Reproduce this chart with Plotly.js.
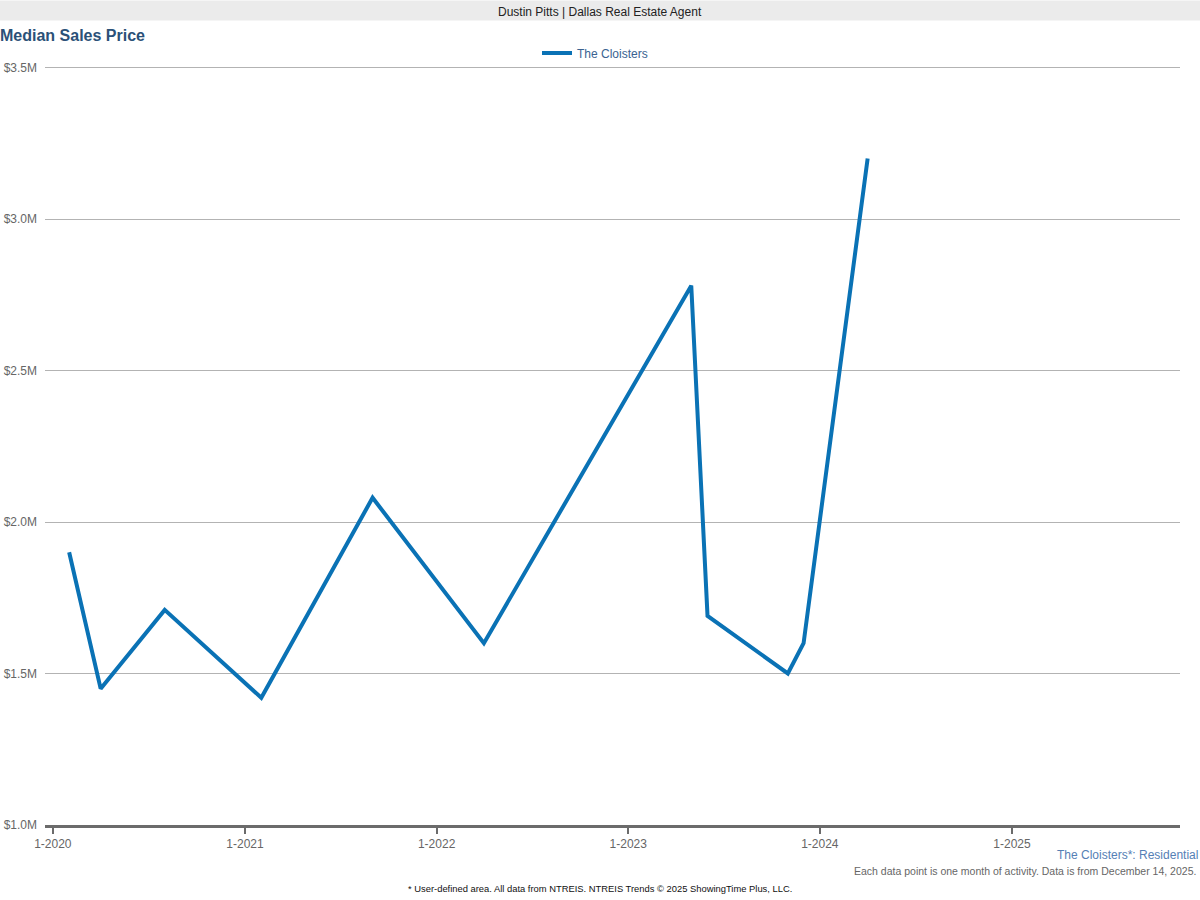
<!DOCTYPE html>
<html>
<head>
<meta charset="utf-8">
<script src="https://cdn.plot.ly/plotly-3.0.1.min.js"></script>
<style>
html,body{margin:0;padding:0;background:#fff;}
#chart{width:1200px;height:900px;}
</style>
</head>
<body>
<div id="chart"></div>
<script>
// Data
const months = ['2020-02-01','2020-04-01','2020-08-01','2021-02-01','2021-09-01','2022-04-01','2023-05-01','2023-06-01','2023-11-01','2023-12-01','2024-04-01'];
const medianPrice = [1900000,1450000,1710000,1420000,2080000,1600000,2780000,1690000,1500000,1600000,3200000];
const seriesName = 'The Cloisters';
const xTickVals = ['2020-01-01','2021-01-01','2022-01-01','2023-01-01','2024-01-01','2025-01-01'];
const xTickText = ['1-2020','1-2021','1-2022','1-2023','1-2024','1-2025'];
const yTickVals = [1000000,1500000,2000000,2500000,3000000,3500000];
const yTickText = ['$1.0M','$1.5M','$2.0M','$2.5M','$3.0M','$3.5M'];

const L = 45, R = 1180, T = 67, B = 825;
const px = x => (x - L) / (R - L);
const py = y => (B - y) / (B - T);
const font = 'Liberation Sans, Arial, sans-serif';

const trace = {
  x: months, y: medianPrice, type: 'scatter', mode: 'lines', name: seriesName,
  line: {color: '#0a72b5', width: 4}, showlegend: true, hoverinfo: 'x+y'
};

const layout = {
  width: 1200, height: 900,
  margin: {l: L, r: 1200 - R, t: T, b: 900 - B, pad: 0},
  paper_bgcolor: '#ffffff', plot_bgcolor: '#ffffff',
  font: {family: font, size: 12, color: '#666'},
  title: {text: '<b>Median Sales Price</b>', x: 0, xref: 'container', xanchor: 'left',
          y: 1 - 35/900, yref: 'container', yanchor: 'middle',
          font: {family: font, size: 16, color: '#2b5178'}},
  showlegend: true,
  legend: {orientation: 'h', x: 595/1200, xref: 'container', xanchor: 'center',
           y: 1 - 53/900, yref: 'container', yanchor: 'middle',
           font: {family: font, size: 12, color: '#3a6391'}, itemwidth: 30,
           bgcolor: 'rgba(0,0,0,0)'},
  xaxis: {type: 'date', range: ['2019-12-17','2025-11-17'],
          tickvals: xTickVals, ticktext: xTickText,
          showgrid: false, zeroline: false,
          showline: true, linecolor: '#6b6b6b', linewidth: 3,
          ticks: 'outside', ticklen: 6, tickwidth: 2, tickcolor: '#6b6b6b',
          tickfont: {family: font, size: 12, color: '#666'}, fixedrange: true},
  yaxis: {range: [1000000, 3500000], tickvals: yTickVals, ticktext: yTickText,
          showgrid: true, gridcolor: '#b3b3b3', gridwidth: 1,
          zeroline: false, showline: false, ticks: '', ticklabelstandoff: 7,
          tickfont: {family: font, size: 12, color: '#666'}, fixedrange: true},
  shapes: [
    {type: 'rect', xref: 'paper', yref: 'paper',
     x0: px(0), x1: px(1200), y0: py(20), y1: py(0),
     fillcolor: '#ebebeb', line: {width: 0}, layer: 'below'},
    {type: 'line', xref: 'paper', yref: 'paper', x0: 0, x1: 1, y0: 1, y1: 1,
     line: {color: '#b3b3b3', width: 1}, layer: 'below'}
  ],
  annotations: [
    {text: 'Dustin Pitts | Dallas Real Estate Agent', xref: 'paper', yref: 'paper',
     x: px(600), y: py(11), xanchor: 'center', yanchor: 'middle', showarrow: false,
     font: {family: font, size: 12, color: '#222'}},
    {text: 'The Cloisters*: Residential', xref: 'paper', yref: 'paper',
     x: px(1200), y: py(855), xanchor: 'right', yanchor: 'middle', showarrow: false,
     font: {family: font, size: 12, color: '#5580b5'}},
    {text: 'Each data point is one month of activity. Data is from December 14, 2025.', xref: 'paper', yref: 'paper',
     x: px(1198), y: py(871), xanchor: 'right', yanchor: 'middle', showarrow: false,
     font: {family: font, size: 10.5, color: '#666'}},
    {text: '* User-defined area. All data from NTREIS. NTREIS Trends © 2025 ShowingTime Plus, LLC.', xref: 'paper', yref: 'paper',
     x: px(600), y: py(889), xanchor: 'center', yanchor: 'middle', showarrow: false,
     font: {family: font, size: 9.4, color: '#111'}}
  ]
};

Plotly.newPlot('chart', [trace], layout, {displayModeBar: false, staticPlot: false});
</script>
</body>
</html>
